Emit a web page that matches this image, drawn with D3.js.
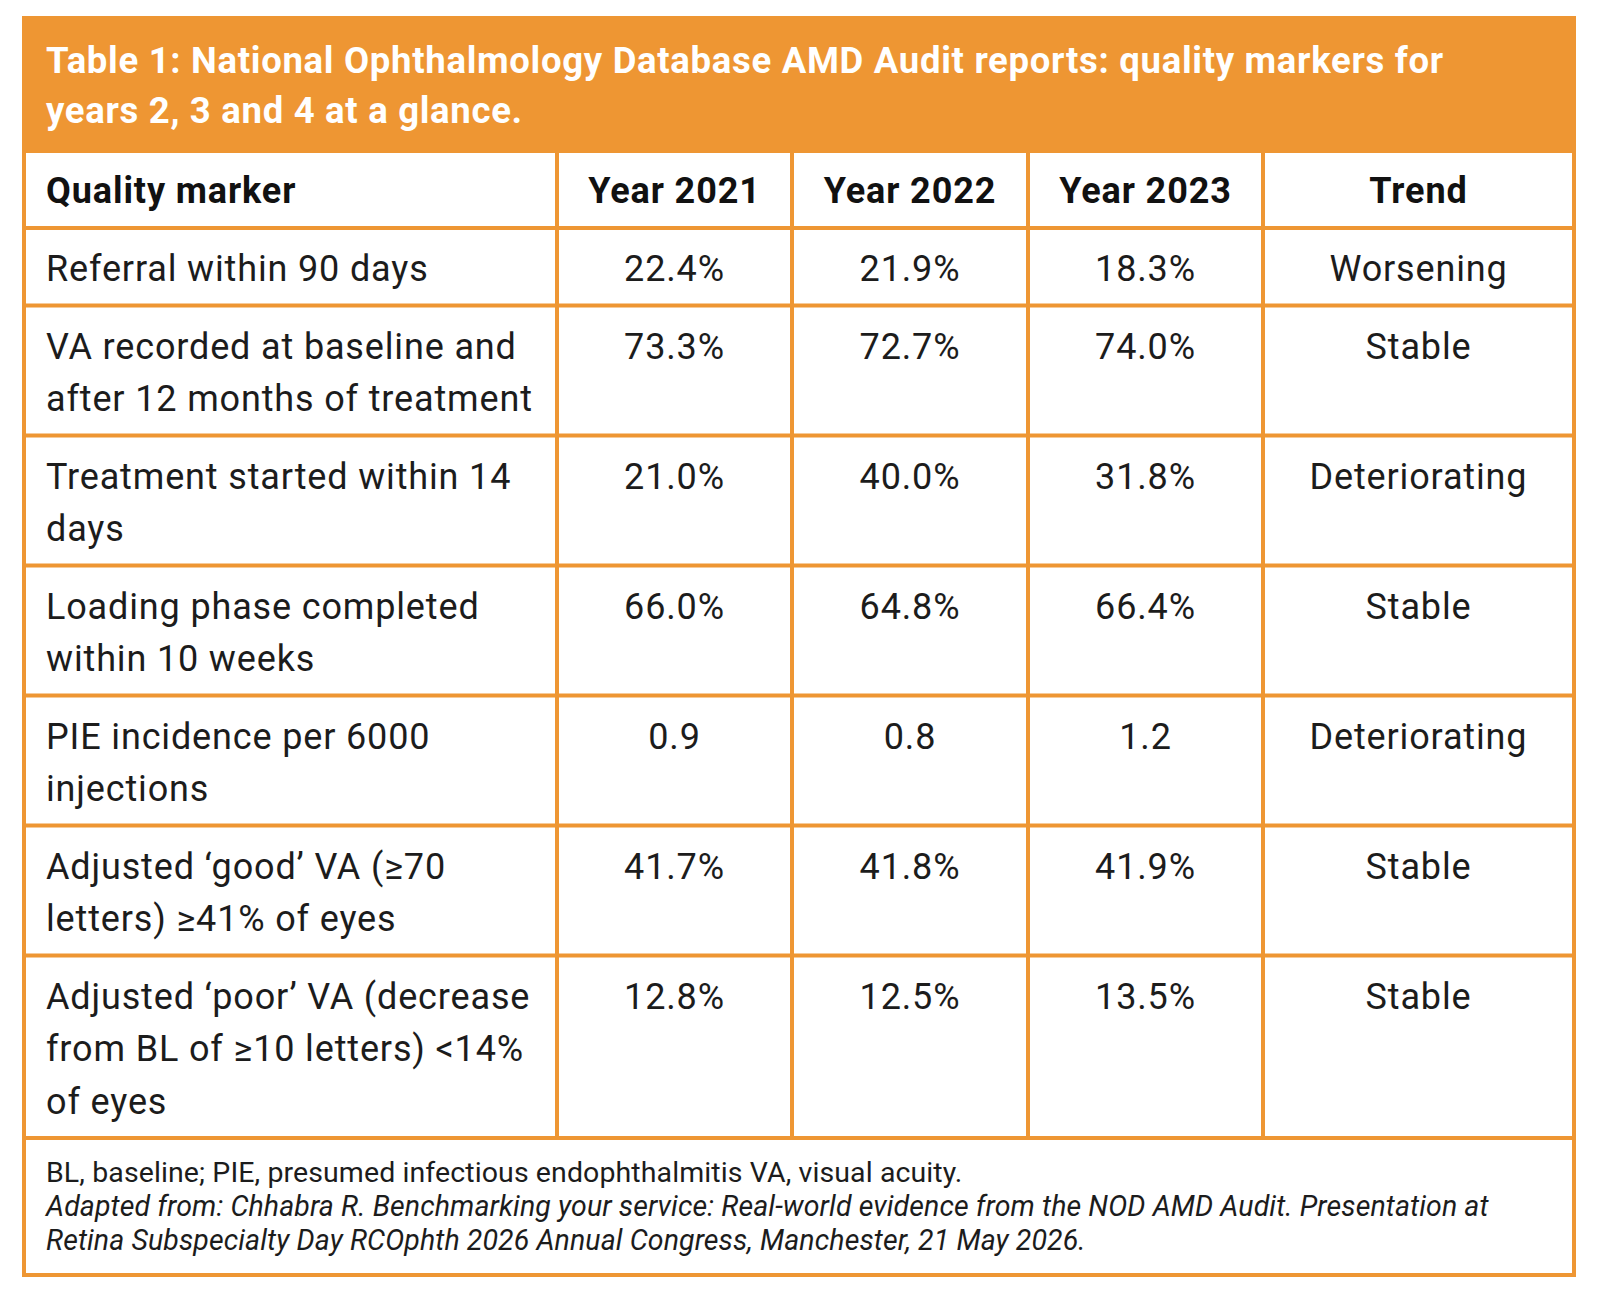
<!DOCTYPE html>
<html>
<head>
<meta charset="utf-8">
<script src="https://cdn.jsdelivr.net/npm/d3@7/dist/d3.min.js"></script>
<style>
	body { margin: 0; background: #fff; }
	svg text { font-family: Roboto, "Noto Sans", sans-serif; }
	.title-text { fill: #fff; font-weight: 700; font-size: 36.5px; letter-spacing: 0.7px; }
	.head-text { fill: #111; font-weight: 700; font-size: 36px; letter-spacing: 0.9px; }
	.cell-text { fill: #1c1c1c; font-size: 36px; letter-spacing: 0.85px; }
	.foot-text { fill: #1c1c1c; font-size: 28.5px; letter-spacing: 0.1px; }
	.rule { stroke: #ee9633; stroke-width: 4; }
</style>
</head>
<body>
<svg id="chart" width="1600" height="1291"></svg>
<script>
const titleLines = [
	"Table 1: National Ophthalmology Database AMD Audit reports: quality markers for",
	"years 2, 3 and 4 at a glance."
];

const columns = ["Quality marker", "Year 2021", "Year 2022", "Year 2023", "Trend"];

// marker names, already split the way the print wraps them
const markers = [
	["Referral within 90 days"],
	["VA recorded at baseline and", "after 12 months of treatment"],
	["Treatment started within 14", "days"],
	["Loading phase completed", "within 10 weeks"],
	["PIE incidence per 6000", "injections"],
	["Adjusted \u2018good\u2019 VA (\u226570", "letters) \u226541% of eyes"],
	["Adjusted \u2018poor\u2019 VA (decrease", "from BL of \u226510 letters) <14%", "of eyes"]
];

const year2021 = ["22.4%", "73.3%", "21.0%", "66.0%", "0.9", "41.7%", "12.8%"];
const year2022 = ["21.9%", "72.7%", "40.0%", "64.8%", "0.8", "41.8%", "12.5%"];
const year2023 = ["18.3%", "74.0%", "31.8%", "66.4%", "1.2", "41.9%", "13.5%"];
const trends = ["Worsening", "Stable", "Deteriorating", "Stable", "Deteriorating", "Stable", "Stable"];

const footnotes = [
	{ text: "BL, baseline; PIE, presumed infectious endophthalmitis VA, visual acuity.", italic: false },
	{ text: "Adapted from: Chhabra R. Benchmarking your service: Real-world evidence from the NOD AMD Audit. Presentation at", italic: true },
	{ text: "Retina Subspecialty Day RCOphth 2026 Annual Congress, Manchester, 21 May 2026.", italic: true }
];

// layout
const box = { left: 24, right: 1574, top: 18 };
const colWidths = [533, 235, 236, 235, 311];
const titleH = 135;
const headH = 75;
const lineH = 52.5;
const rowPad = 25;
const footH = 137;
const orange = "#ee9633";

const svg = d3.select("#chart");

const colEdges = [box.left].concat(Array.from(d3.cumsum(colWidths), (d) => box.left + d));
const colX = d3.scaleOrdinal().domain(columns).range(colEdges.slice(0, -1));
const colW = d3.scaleOrdinal().domain(columns).range(colWidths);

const rows = markers.map((m, i) => ({
	cells: [m, [year2021[i]], [year2022[i]], [year2023[i]], [trends[i]]],
	lines: m.length
}));

// row tops
const headTop = box.top + titleH;
let yCursor = headTop + headH;
rows.forEach((r) => {
	r.top = yCursor;
	r.height = rowPad + lineH * r.lines;
	yCursor += r.height;
});
const tableBottom = yCursor;
const boxBottom = tableBottom + footH;

// title bar
svg.append("rect")
	.attr("x", box.left)
	.attr("y", box.top)
	.attr("width", box.right - box.left)
	.attr("height", titleH)
	.attr("fill", orange);

svg.append("g")
	.attr("class", "title-group")
	.selectAll("text")
	.data(titleLines)
	.join("text")
	.attr("class", "title-text")
	.attr("x", box.left + 22)
	.attr("y", (d, i) => box.top + 55 + i * 50)
	.text((d) => d);

// grid
const grid = svg.append("g").attr("class", "grid-group");

grid.selectAll("line.h")
	.data([headTop + headH].concat(rows.map((r) => r.top + r.height)))
	.join("line")
	.attr("class", "rule h")
	.attr("x1", box.left)
	.attr("x2", box.right)
	.attr("y1", (d) => d)
	.attr("y2", (d) => d);

grid.selectAll("line.v")
	.data(colEdges.slice(1, -1))
	.join("line")
	.attr("class", "rule v")
	.attr("x1", (d) => d)
	.attr("x2", (d) => d)
	.attr("y1", headTop)
	.attr("y2", tableBottom);

grid.append("rect")
	.attr("class", "rule")
	.attr("fill", "none")
	.attr("x", box.left)
	.attr("y", box.top)
	.attr("width", box.right - box.left)
	.attr("height", boxBottom - box.top);

// cell x for a column, left aligned for markers, centred otherwise
function cellX(col) {
	return col === columns[0] ? colX(col) + 22 : colX(col) + colW(col) / 2;
}

// header
svg.append("g")
	.attr("class", "head-group")
	.selectAll("text")
	.data(columns)
	.join("text")
	.attr("class", "head-text")
	.attr("x", (d) => cellX(d))
	.attr("y", headTop + 50)
	.attr("text-anchor", (d, i) => i === 0 ? "start" : "middle")
	.text((d) => d);

// body
const body = svg.append("g").attr("class", "body-group");

rows.forEach((r) => {
	r.cells.forEach((lines, ci) => {
		const col = columns[ci];
		body.append("text")
			.attr("class", "cell-text")
			.attr("text-anchor", ci === 0 ? "start" : "middle")
			.selectAll("tspan")
			.data(lines)
			.join("tspan")
			.attr("x", cellX(col))
			.attr("y", (d, li) => r.top + 53 + li * lineH)
			.text((d) => d);
	});
});

// footnotes
svg.append("g")
	.attr("class", "foot-group")
	.selectAll("text")
	.data(footnotes)
	.join("text")
	.attr("class", "foot-text")
	.attr("x", box.left + 22)
	.attr("y", (d, i) => tableBottom + 44 + i * 34)
	.attr("font-style", (d) => d.italic ? "italic" : "normal")
	.text((d) => d.text);
</script>
</body>
</html>
